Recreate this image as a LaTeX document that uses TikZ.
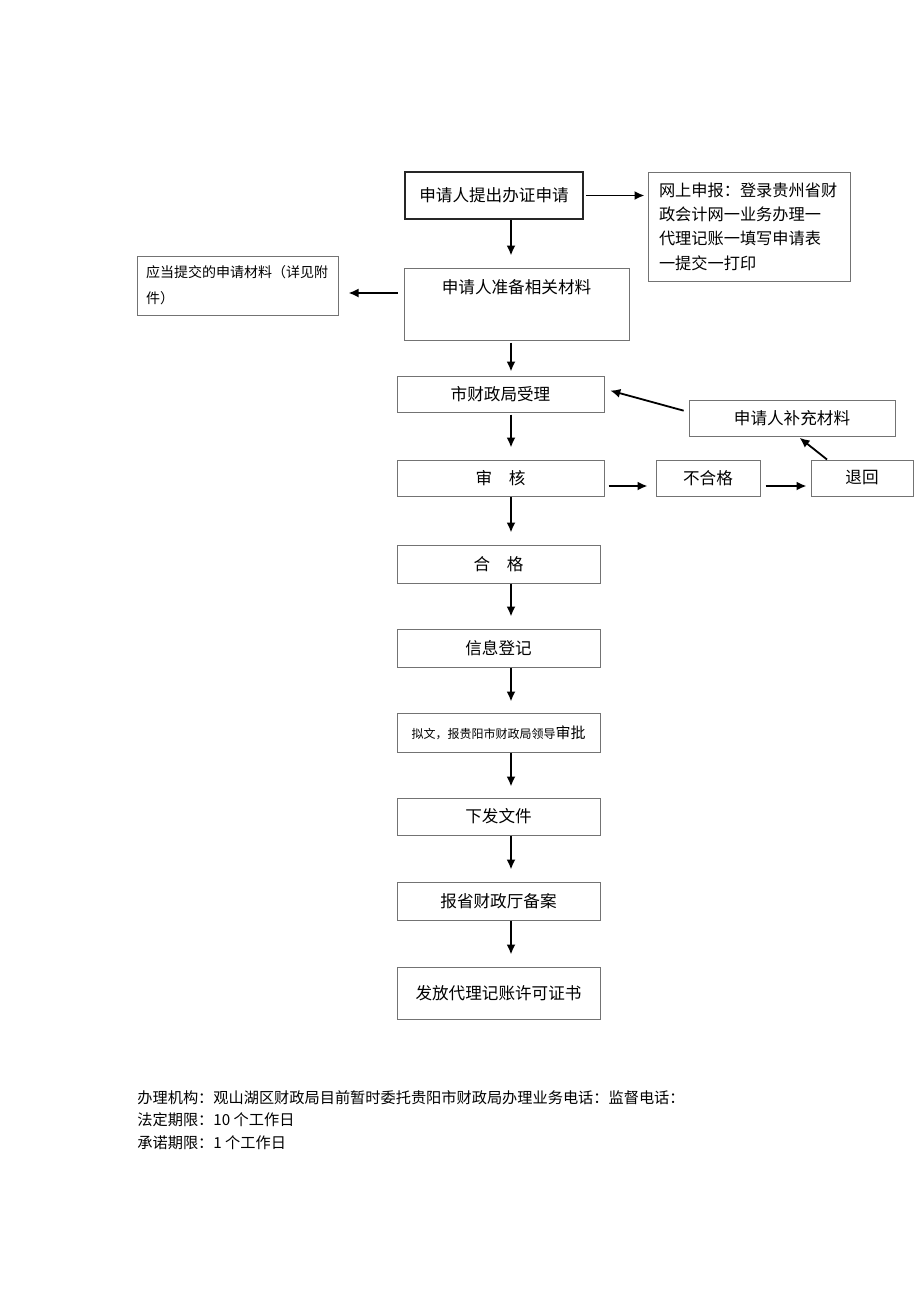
\documentclass[tikz,border=0pt]{standalone}
\usepackage{fontspec}
\setmainfont{Noto Sans CJK SC}
\usetikzlibrary{arrows.meta,positioning,calc}

\tikzset{
  box/.style={rectangle, draw=black!55, line width=0.5pt, inner sep=0pt,
    font=\fontsize{8.3}{10}\selectfont},
  flow/.style={-{Latex[length=5pt,width=4.5pt]}, line width=0.9pt},
}

\begin{document}
\begin{tikzpicture}[x=0.5pt, y=-0.5pt]
  \useasboundingbox (0,0) rectangle (920,1301);
  \coordinate (ax) at (511,0);
  % main column
  \node (n1) at (494,195.5) [box, draw=black!85, line width=0.9pt, minimum width=89pt, minimum height=23.5pt] {申请人提出办证申请};
  \node (online) at (749,226.5) [box, minimum width=101pt, minimum height=54.5pt, text width=90pt, align=left,
    font=\fontsize{8.1}{12.2}\selectfont] {网上申报：登录贵州省财\\政会计网一业务办理一\\代理记账一填写申请表\\一提交一打印};
  \node (n2) at (516.5,304) [box, minimum width=112.5pt, minimum height=36pt] {};
  \node (n2t) at (516.5,287) [font=\fontsize{8.3}{10}\selectfont, inner sep=0pt] {申请人准备相关材料};
  \node (material) at (237.5,285.5) [box, minimum width=100.5pt, minimum height=29.5pt, text width=91.5pt, align=left,
    font=\fontsize{7}{13}\selectfont] {应当提交的申请材料（详见附\\件）};
  \node (n3) at (500.5,394) [box, minimum width=103.5pt, minimum height=18pt] {市财政局受理};
  \node (supp) at (792,418) [box, minimum width=103pt, minimum height=18pt] {申请人补充材料};
  \node (n4) at (500.5,478) [box, minimum width=103.5pt, minimum height=18pt] {审　核};
  \node (bad) at (708,478) [box, minimum width=52pt, minimum height=18pt] {不合格};
  \node (back) at (862,478) [box, minimum width=51pt, minimum height=18pt] {退回};
  \node (ok) at (498.5,564) [box, minimum width=101.5pt, minimum height=19pt] {合　格};
  \node (info) at (498.5,648) [box, minimum width=101.5pt, minimum height=19pt] {信息登记};
  \node (approve) at (498.5,732.5) [box, minimum width=101.5pt, minimum height=19.5pt,
    font=\fontsize{6}{8}\selectfont] {拟文，报贵阳市财政局领导{\fontsize{7.5}{8}\selectfont 审批}};
  \node (issue) at (498.5,816.5) [box, minimum width=101.5pt, minimum height=18.5pt] {下发文件};
  \node (record) at (498.5,901) [box, minimum width=101.5pt, minimum height=19pt] {报省财政厅备案};
  \node (cert) at (498.5,993) [box, minimum width=101.5pt, minimum height=26pt] {发放代理记账许可证书};

  % vertical arrows
  \draw[flow, shorten >=6pt] (n1.south -| ax) -- (n2.north -| ax);
  \draw[flow, shorten <=1pt, shorten >=2pt] (n2.south -| ax) -- (n3.north -| ax);
  \draw[flow, shorten <=1pt, shorten >=6pt] (n3.south -| ax) -- (n4.north -| ax);
  \draw[flow, shorten >=6pt] (n4.south -| ax) -- (ok.north -| ax);
  \draw[flow, shorten >=6pt] (ok.south -| ax) -- (info.north -| ax);
  \draw[flow, shorten >=5.5pt] (info.south -| ax) -- (approve.north -| ax);
  \draw[flow, shorten >=5.5pt] (approve.south -| ax) -- (issue.north -| ax);
  \draw[flow, shorten >=6pt] (issue.south -| ax) -- (record.north -| ax);
  \draw[flow, shorten >=6pt] (record.south -| ax) -- (cert.north -| ax);

  % side arrows
  \draw[flow, shorten <=1pt, shorten >=1.5pt] (n1.east) -- (online.west |- n1.east);
  \draw[flow, shorten <=3pt, shorten >=5pt] ([yshift=5.5pt]n2.west) -- ([yshift=-3.75pt]material.east);
  \draw[flow, shorten <=2.5pt, shorten >=3pt] ([yshift=3pt]supp.west) -- ([yshift=2.5pt]n3.east);
  \draw[flow, shorten <=2pt, shorten >=4pt] ([yshift=-4pt]n4.east) -- ([yshift=-4pt]bad.west);
  \draw[flow, shorten <=2.5pt, shorten >=2pt] ([yshift=-4pt]bad.east) -- ([yshift=-4pt]back.west);
  \draw[flow, shorten >=1pt] ([xshift=-17.5pt]back.north) -- ([xshift=3pt]supp.south);

  % footer
  \node (agency) at (137,1098) [anchor=west, inner sep=0pt, font=\fontsize{7.6}{9}\selectfont]
    {办理机构：观山湖区财政局目前暂时委托贵阳市财政局办理业务电话：监督电话：};
  \node (legal) at (137,1120) [anchor=west, inner sep=0pt, font=\fontsize{7.6}{9}\selectfont]
    {法定期限：10 个工作日};
  \node (promise) at (137,1143) [anchor=west, inner sep=0pt, font=\fontsize{7.6}{9}\selectfont]
    {承诺期限：1 个工作日};
\end{tikzpicture}
\end{document}
